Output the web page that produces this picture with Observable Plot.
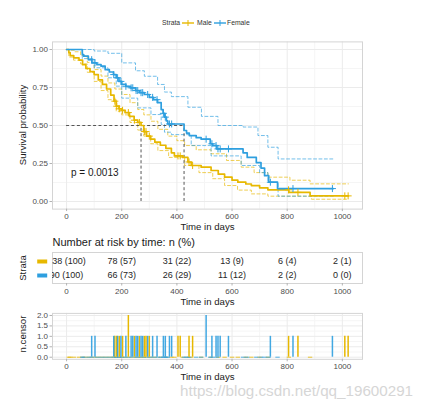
<!DOCTYPE html>
<html><head><meta charset="utf-8">
<script src="https://cdn.jsdelivr.net/npm/d3@7"></script>
<script src="https://cdn.jsdelivr.net/npm/@observablehq/plot@0.6"></script>
<style>
html,body{margin:0;padding:0;background:#fff;}
#wrap{position:relative;width:430px;height:403px;overflow:hidden;background:#fff;font-family:"Liberation Sans",Arial,sans-serif;color:#1a1a1a}
#wrap > svg{position:absolute;left:0;background:transparent !important;overflow:visible}
.t{position:absolute;white-space:nowrap;line-height:1}
.c{transform:translate(-50%,-50%)}
.v{transform:translateY(-50%)}
.rot{transform:translate(-50%,-50%) rotate(-90deg)}
</style></head><body><div id="wrap"></div>
<script>
// ---------------- data ----------------
const strata = ["Male", "Female"];
const strataColors = ["#E7B800", "#2E9FDF"];

const maleTime = [0, 8, 13, 26, 45, 58, 70, 85, 100, 115, 130, 145, 160, 172, 180, 190, 200, 212, 228, 245, 258, 270, 280, 290, 305, 320, 340, 360, 380, 391, 421, 440, 452, 488, 524, 550, 573, 600, 621, 650, 670, 700, 730, 806, 883, 1022];
const maleSurv = [1, .98, .96, .945, .93, .9, .875, .855, .835, .8, .77, .74, .7, .66, .627, .61, .6, .585, .56, .535, .52, .5, .46, .43, .41, .39, .37, .35, .32, .3, .29, .26, .237, .226, .204, .18, .16, .14, .127, .115, .105, .09, .077, .06, .037, .037];

const femaleTime = [0, 57, 62, 79, 92, 110, 125, 140, 155, 170, 180, 190, 200, 215, 232, 250, 265, 282, 300, 315, 330, 343, 350, 356, 362, 367, 426, 435, 445, 470, 488, 521, 530, 545, 640, 655, 688, 705, 718, 733, 765, 967];
const femaleSurv = [1, .967, .956, .933, .912, .9, .89, .867, .852, .835, .814, .79, .77, .758, .748, .73, .716, .704, .685, .67, .65, .605, .58, .555, .53, .51, .467, .45, .434, .42, .41, .38, .368, .346, .32, .29, .256, .22, .17, .127, .085, .085];

const maleUpperTime = [0, 15, 30, 51, 75, 100, 125, 150, 175, 200, 230, 258, 280, 306, 331, 367, 400, 428, 470, 524, 580, 633, 680, 730, 810, 883, 1022];
const maleUpperSurv = [1, .995, .985, .96, .915, .868, .825, .78, .74, .704, .65, .605, .57, .528, .475, .43, .40, .368, .34, .314, .27, .226, .19, .16, .14, .116, .116];
const maleLowerTime = [0, 8, 25, 51, 75, 100, 125, 150, 180, 200, 230, 258, 280, 305, 331, 370, 428, 480, 530, 573, 620, 670, 730, 888, 1022];
const maleLowerSurv = [1, .95, .93, .905, .85, .79, .73, .67, .594, .57, .52, .47, .43, .38, .335, .29, .237, .19, .15, .105, .075, .05, .035, .015, .015];

const femaleUpperTime = [0, 60, 100, 150, 200, 250, 282, 330, 355, 380, 440, 489, 549, 640, 694, 730, 767, 967];
const femaleUpperSurv = [1, 1, .99, .975, .912, .86, .824, .77, .72, .69, .62, .56, .50, .49, .434, .357, .28, .28];
const femaleLowerTime = [0, 57, 100, 150, 180, 200, 258, 306, 343, 355, 380, 452, 524, 633, 700, 730, 767, 967];
const femaleLowerSurv = [1, .94, .88, .814, .759, .68, .616, .572, .507, .456, .44, .368, .30, .237, .19, .127, .035, .03];

const maleCensorTime = [175, 182, 191, 203, 224, 246, 264, 282, 288, 300, 404, 412, 444, 457, 805, 839, 1009, 1021];
const maleCensorN = [1, 1, 1, 1, 2, 1, 1, 1, 1, 1, 1, 1, 1, 1, 1, 1, 1, 1];
const femaleCensorTime = [91, 103, 171, 185, 197, 215, 234, 240, 252, 258, 270, 276, 294, 312, 328, 351, 358, 373, 381, 506, 527, 542, 549, 557, 587, 739, 821, 964];
const femaleCensorN = [1, 1, 1, 1, 1, 1, 1, 1, 1, 1, 1, 1, 1, 1, 1, 1, 1, 1, 1, 2, 1, 1, 1, 1, 1, 1, 1, 1];

const medianTimes = [270, 426];
const pLabel = "p = 0.0013";
const pCoord = [16, 0.19];

const riskTimes = [0, 200, 400, 600, 800, 1000];
const riskMale = [138, 78, 31, 13, 6, 2];
const riskMalePct = [100, 57, 22, 9, 4, 1];
const riskFemale = [90, 66, 26, 11, 2, 0];
const riskFemalePct = [100, 73, 29, 12, 2, 0];

const xTicks = [0, 200, 400, 600, 800, 1000];
const xMinor = [100, 300, 500, 700, 900];
const yTicks = [0, 0.25, 0.5, 0.75, 1];
const yMinor = [0.125, 0.375, 0.625, 0.875];
const cTicks = [0, 0.5, 1, 1.5, 2];
const cMinor = [0.25, 0.75, 1.25, 1.75];

// ---------------- helpers ----------------
const FONT = '"Liberation Sans", Arial, sans-serif';
const MALE = strataColors[0], FEMALE = strataColors[1];
const GRID = "#ebebeb", GRID2 = "#f5f5f5", FRAME = "#d4d4d4", TXT = "#4d4d4d", TICK = "#b3b3b3";
const xDomain = [-51.1, 1073.1];
const rows = (ts, ss) => ts.map((t, i) => ({time: t, surv: ss[i]}));
const survAt = (ts, ss, t) => ss[Math.max(0, d3.bisectRight(ts, t) - 1)];
const censRows = (ts, ns, cts, css) => ts.map((t, i) => ({time: t, n: ns[i], surv: survAt(cts, css, t)}));
const common = {width: 430, marginLeft: 52, marginRight: 68, x: {domain: xDomain},
  style: {fontFamily: FONT, background: "transparent", overflow: "visible"}};
const axX = () => Plot.axisX({ticks: xTicks, tickFormat: d3.format("d"), tickSize: 2.5, tickPadding: 2, fontSize: 8, fill: TXT, stroke: TICK, label: null});
const xTitle = (dy) => Plot.text(["Time in days"], {frameAnchor: "bottom", dy, fontSize: 9.6, fill: "#1a1a1a", lineAnchor: "middle"});
const dashSym = {draw(ctx) { ctx.moveTo(-2.2, 0); ctx.lineTo(2.2, 0); }};
const barSym = {draw(ctx) { ctx.rect(-5, -2, 10, 4); }};

const wrap = document.getElementById("wrap");
function place(svg, top) { svg.style.top = top + "px"; wrap.appendChild(svg); }

// ---------------- survival plot ----------------
const main = Plot.plot({
  ...common, height: 230, marginTop: 41.4, marginBottom: 21.4,
  y: {domain: [-0.05, 1.05]},
  marks: [
    Plot.ruleX(xMinor, {stroke: GRID2}),
    Plot.ruleY(yMinor, {stroke: GRID2}),
    Plot.ruleX(xTicks, {stroke: GRID}),
    Plot.ruleY(yTicks, {stroke: GRID}),
    Plot.frame({stroke: FRAME}),
    Plot.line(rows(maleUpperTime, maleUpperSurv), {x: "time", y: "surv", curve: "step-after", stroke: MALE, strokeWidth: 0.9, strokeOpacity: 0.75, strokeDasharray: "3,2.4"}),
    Plot.line(rows(maleLowerTime, maleLowerSurv), {x: "time", y: "surv", curve: "step-after", stroke: MALE, strokeWidth: 0.9, strokeOpacity: 0.75, strokeDasharray: "3,2.4"}),
    Plot.line(rows(femaleUpperTime, femaleUpperSurv), {x: "time", y: "surv", curve: "step-after", stroke: FEMALE, strokeWidth: 0.9, strokeOpacity: 0.75, strokeDasharray: "3,2.4"}),
    Plot.line(rows(femaleLowerTime, femaleLowerSurv), {x: "time", y: "surv", curve: "step-after", stroke: FEMALE, strokeWidth: 0.9, strokeOpacity: 0.75, strokeDasharray: "3,2.4"}),
    Plot.ruleY([0.5], {x1: 0, x2: d3.max(medianTimes), stroke: "#444", strokeWidth: 0.9, strokeDasharray: "3,2.4"}),
    Plot.ruleX(medianTimes, {x: d => d, y1: 0, y2: 0.5, stroke: "#444", strokeWidth: 0.9, strokeDasharray: "3,2.4"}),
    Plot.line(rows(maleTime, maleSurv), {x: "time", y: "surv", curve: "step-after", stroke: MALE, strokeWidth: 1.7}),
    Plot.line(rows(femaleTime, femaleSurv), {x: "time", y: "surv", curve: "step-after", stroke: FEMALE, strokeWidth: 1.7}),
    Plot.dot(censRows(maleCensorTime, maleCensorN, maleTime, maleSurv), {x: "time", y: "surv", symbol: "plus", r: 2.4, stroke: MALE, strokeWidth: 1}),
    Plot.dot(censRows(femaleCensorTime, femaleCensorN, femaleTime, femaleSurv), {x: "time", y: "surv", symbol: "plus", r: 2.4, stroke: FEMALE, strokeWidth: 1}),
    Plot.text([pLabel], {x: pCoord[0], y: pCoord[1], text: d => d, textAnchor: "start", fontSize: 10, fill: "#1a1a1a"}),
    axX(),
    Plot.axisY({ticks: yTicks, tickFormat: d3.format(".2f"), tickSize: 2.5, tickPadding: 2, fontSize: 8, fill: TXT, stroke: TICK, label: null}),
    xTitle(17.5)
  ]
});
place(main, 0);

// ---------------- risk table ----------------
const riskRows = [
  ...riskTimes.map((t, i) => ({time: t, strata: "Male", label: `${riskMale[i]} (${riskMalePct[i]})`})),
  ...riskTimes.map((t, i) => ({time: t, strata: "Female", label: `${riskFemale[i]} (${riskFemalePct[i]})`}))
];
const risk = Plot.plot({
  ...common, height: 78, marginTop: 20, marginBottom: 27,
  y: {type: "point", domain: strata, padding: 0.6, axis: null},
  marks: [
    Plot.frame({stroke: FRAME}),
    Plot.text(riskRows, {x: "time", y: "strata", text: "label", fontSize: 9, fill: "#262626", clip: true}),
    ...strata.map((s, k) => Plot.dot([s], {y: d => d, frameAnchor: "left", dx: -10.3, symbol: barSym, fill: strataColors[k], stroke: "none"})),
    axX(),
    xTitle(18),
    Plot.text(["Number at risk by time: n (%)"], {frameAnchor: "top-left", dy: -9.7, textAnchor: "start", lineAnchor: "middle", fontSize: 11, fill: "#1a1a1a"})
  ]
});
place(risk, 232);

// ---------------- n.censor plot ----------------
const censM = maleCensorTime.map((t, i) => ({time: t, n: maleCensorN[i]}));
const censF = femaleCensorTime.map((t, i) => ({time: t, n: femaleCensorN[i]}));
const cens = Plot.plot({
  ...common, height: 84, marginTop: 12.9, marginBottom: 25.2,
  y: {domain: [-0.1, 2.1]},
  marks: [
    Plot.ruleX(xMinor, {stroke: GRID2}),
    Plot.ruleY(cMinor, {stroke: GRID2}),
    Plot.ruleX(xTicks, {stroke: GRID}),
    Plot.ruleY(cTicks, {stroke: GRID}),
    Plot.frame({stroke: FRAME}),
    Plot.dot(maleTime.slice(1, -1), {x: d => d, y: 0, symbol: dashSym, stroke: MALE, strokeWidth: 1, strokeOpacity: 0.8}),
    Plot.dot(femaleTime.slice(1, -1), {x: d => d, y: 0, symbol: dashSym, stroke: FEMALE, strokeWidth: 1, strokeOpacity: 0.8}),
    Plot.ruleX(censM, {x: "time", y1: 0, y2: "n", stroke: MALE, strokeWidth: 1.5}),
    Plot.ruleX(censF, {x: "time", y1: 0, y2: "n", stroke: FEMALE, strokeWidth: 1.5, strokeOpacity: 0.9}),
    axX(),
    Plot.axisY({ticks: cTicks, tickFormat: d3.format(".1f"), tickSize: 2.5, tickPadding: 2, fontSize: 8, fill: TXT, stroke: TICK, label: null}),
    xTitle(17.5)
  ]
});
place(cens, 300);

// ---------------- html titles / legend ----------------
function addText(html, cls, style) {
  const d = document.createElement("div");
  d.className = "t " + cls;
  d.setAttribute("style", style);
  d.innerHTML = html;
  wrap.appendChild(d);
}
addText("Survival probability", "rot", "left:22.7px;top:125px;font-size:9.6px;color:#1a1a1a");
addText("Strata", "rot", "left:22.7px;top:267.5px;font-size:9.6px;color:#1a1a1a");
addText("n.censor", "rot", "left:22.7px;top:334px;font-size:9.6px;color:#1a1a1a");

const key = c => `<svg width="12" height="8" style="display:block"><line x1="0" x2="12" y1="4" y2="4" stroke="${c}" stroke-width="1.4"/><line x1="6" x2="6" y1="1" y2="7" stroke="${c}" stroke-width="1"/></svg>`;
addText("Strata", "v", "left:162px;top:23.3px;font-size:6.8px;color:#333");
addText(key(MALE), "v", "left:181.5px;top:23.3px");
addText(strata[0], "v", "left:197px;top:23.3px;font-size:6.8px;color:#333");
addText(key(FEMALE), "v", "left:214px;top:23.3px");
addText(strata[1], "v", "left:227px;top:23.3px;font-size:6.8px;color:#333");

addText("https://blog.csdn.net/qq_19600291", "v", "left:180px;top:391px;font-size:15.2px;color:#d6d6d6;z-index:5");
</script></body></html>
